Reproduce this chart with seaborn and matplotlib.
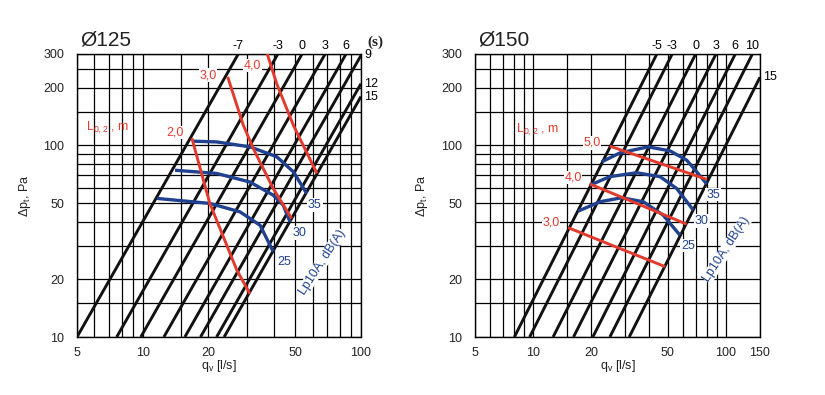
import matplotlib
matplotlib.use("Agg")
import matplotlib.pyplot as plt
import matplotlib.ticker as mticker
import matplotlib.transforms as mtransforms
import seaborn as sns

# ================= DATA =================
# ---- Ø125 : characteristic lines (damper setting s) ----
s125_labels = ["-7", "-3", "0", "3", "6", "9", "12", "15"]
s125_q_start = [5.0, 7.6, 9.8, 12.5, 15.6, 18.4, 21.8, 23.6]
s125_dp_start = [10, 10, 10, 10, 10, 10, 10, 10]
s125_q_end = [27.4, 41.6, 53.7, 68.5, 85.4, 100, 100, 100]
s125_dp_end = [300, 300, 300, 300, 300, 295, 210, 180]

# ---- Ø125 : sound level curves Lp10A dB(A) ----
lp125_35_q = [17.05, 21.8, 31.0, 41.1, 49.0, 56.4]
lp125_35_dp = [105.2, 104.3, 98.3, 87.3, 72.8, 56.1]
lp125_30_q = [14.06, 21.8, 31.0, 39.6, 44.0, 47.3]
lp125_30_dp = [74.2, 71.4, 64.4, 55.0, 48.8, 39.9]
lp125_25_q = [11.6, 20.3, 27.9, 34.5, 39.6]
lp125_25_dp = [52.9, 49.8, 45.0, 38.3, 27.9]

# ---- Ø125 : throw L0,2 (m) ----
l125_20_q = [16.8, 20.3, 27.0, 31.0]
l125_20_dp = [109, 49.8, 22.3, 16.8]
l125_30_q = [24.5, 28.9, 32.1, 39.6, 48.1]
l125_30_dp = [228, 127.5, 96.4, 59.6, 41.6]
l125_40_q = [37.2, 41.1, 49.0, 62.8]
l125_40_dp = [300, 210, 127.5, 71.4]

# ---- Ø150 : characteristic lines ----
s150_labels = ["-5", "-3", "0", "3", "6", "10", "15"]
s150_q_start = [8.0, 9.6, 12.7, 16.2, 20.4, 25.0, 31.5]
s150_dp_start = [10, 10, 10, 10, 10, 10, 10]
s150_q_end = [43.8, 52.6, 69.6, 88.7, 111.7, 137, 150]
s150_dp_end = [300, 300, 300, 300, 300, 300, 227]

# ---- Ø150 : sound level curves ----
lp150_35_q = [22.7, 28.2, 39.5, 51.3, 62.5, 70.5, 79.4]
lp150_35_dp = [82.1, 91.4, 98.3, 93.6, 83.8, 72.8, 62.9]
lp150_30_q = [19.7, 25.0, 34.4, 45.5, 55.5, 67.6]
lp150_30_dp = [62.0, 68.7, 72.0, 68.7, 59.6, 46.0]
lp150_25_q = [17.15, 22.2, 28.8, 37.3, 47.3, 57.7]
lp150_25_dp = [45.4, 50.8, 53.3, 50.8, 43.2, 34.0]

# ---- Ø150 : throw L0,2 (m) ----
l150_50_q = [25.0, 79.4]
l150_50_dp = [99.1, 66.5]
l150_40_q = [19.7, 62.5]
l150_40_dp = [62.9, 38.8]
l150_30_q = [15.2, 48.3]
l150_30_dp = [37.2, 23.3]

# ---- axes ----
y_ticks = [10, 20, 50, 100, 200, 300]
y_grid = [10, 15, 20, 30, 40, 50, 60, 70, 80, 90, 100, 150, 200, 250, 300]
x125_ticks = [5, 10, 20, 50, 100]
x125_grid = [5, 6, 7, 8, 9, 10, 15, 20, 30, 40, 50, 60, 70, 80, 90, 100]
x150_ticks = [5, 10, 20, 50, 100, 150]
x150_grid = [5, 6, 7, 8, 9, 10, 15, 20, 30, 40, 50, 60, 70, 80, 90, 100, 150]

# ================= STYLE =================
sns.set_theme(style="white")
plt.rcParams["font.family"] = ["Liberation Sans", "DejaVu Sans"]
plt.rcParams["mathtext.default"] = "regular"

RED = "#e23a2c"
BLUE = "#1f4190"
BLACK = "#111111"

fig = plt.figure(figsize=(8.25, 3.95), dpi=100)
ax1 = fig.add_axes([77 / 825, 1 - 337 / 395, 284 / 825, 283 / 395])
ax2 = fig.add_axes([475 / 825, 1 - 337 / 395, 285 / 825, 283 / 395])


def setup(ax, xmax, xticks, xgrid):
    ax.set_xscale("log")
    ax.set_yscale("log")
    ax.set_xlim(5, xmax)
    ax.set_ylim(10, 300)
    ax.set_xticks(xticks)
    ax.set_xticklabels([str(v) for v in xticks])
    ax.set_xticks(xgrid, minor=True)
    ax.set_yticks(y_ticks)
    ax.set_yticklabels([str(v) for v in y_ticks])
    ax.set_yticks(y_grid, minor=True)
    ax.xaxis.set_minor_formatter(mticker.NullFormatter())
    ax.yaxis.set_minor_formatter(mticker.NullFormatter())
    ax.tick_params(which="both", length=0, labelsize=9, colors="#222222")
    ax.tick_params(axis="x", pad=7)
    ax.tick_params(axis="y", pad=9)
    ax.grid(which="both", color="black", lw=0.9)
    for sp in ax.spines.values():
        sp.set_color("black")
        sp.set_linewidth(1.0)
        sp.set_visible(True)
    ax.set_xlabel(r"q$_{v}$ [l/s]", fontsize=9, color="#222222")
    ax.set_ylabel(r"Δp$_{t}$, Pa", fontsize=9, color="#222222")
    ax.xaxis.set_label_coords(0.5, -0.075)


def draw_line(ax, q, dp, color, lw):
    sns.lineplot(x=q, y=dp, ax=ax, color=color, lw=lw, sort=False,
                 estimator=None, solid_capstyle="butt", zorder=3)


def s_lines(ax, labels, qs, dps, qe, dpe, xmax):
    trans_top = mtransforms.blended_transform_factory(ax.transData, ax.transAxes)
    trans_right = mtransforms.blended_transform_factory(ax.transAxes, ax.transData)
    for lab, a, b, c, d in zip(labels, qs, dps, qe, dpe):
        draw_line(ax, [a, c], [b, d], BLACK, 2.1)
        if d >= 300:
            ax.annotate(lab, xy=(c, 1.0), xycoords=trans_top, xytext=(0, 6),
                        textcoords="offset points", ha="center", va="center",
                        fontsize=9, color="black", annotation_clip=False)
        else:
            ax.text(1.012, d, lab, transform=trans_right, ha="left",
                    va="center", fontsize=9, color="black")


# ---------------- Ø125 ----------------
setup(ax1, 100, x125_ticks, x125_grid)
s_lines(ax1, s125_labels, s125_q_start, s125_dp_start, s125_q_end, s125_dp_end, 100)
for q, dp in [(lp125_35_q, lp125_35_dp), (lp125_30_q, lp125_30_dp), (lp125_25_q, lp125_25_dp)]:
    draw_line(ax1, q, dp, BLUE, 2.4)
for q, dp in [(l125_20_q, l125_20_dp), (l125_30_q, l125_30_dp), (l125_40_q, l125_40_dp)]:
    draw_line(ax1, q, dp, RED, 2.1)

ax1.text(0.01, 1.05, "Ø125", transform=ax1.transAxes, ha="left", va="center",
         fontsize=15, color="#222222")
ax1.text(1.05, 1.043, "(s)", transform=ax1.transAxes, ha="center", va="center",
         fontsize=11, fontweight="bold", family="Liberation Serif", color="#222222")
ax1.text(6.87, 124, r"L$_{0,2}$ , m", color=RED, fontsize=9, ha="center", va="center")
for txt, x, y in [("2,0", 14.1, 117), ("3,0", 19.9, 233), ("4,0", 31.7, 261)]:
    ax1.text(x, y, txt, color=RED, fontsize=9, ha="center", va="center",
             bbox=dict(facecolor="white", edgecolor="none", pad=0.5))
for txt, x, y in [("35", 61.5, 48.8), ("30", 52.5, 35.0), ("25", 44.4, 24.7)]:
    ax1.text(x, y, txt, color=BLUE, fontsize=9, ha="center", va="center",
             bbox=dict(facecolor="white", edgecolor="none", pad=0.5))
ax1.text(66.3, 24.6, "Lp10A, dB(A)", color=BLUE, fontsize=9, rotation=57,
         rotation_mode="anchor", ha="center", va="center",
         bbox=dict(facecolor="white", edgecolor="none", pad=0.3))
ax1.yaxis.set_label_coords(-0.155, 0.5)

# ---------------- Ø150 ----------------
setup(ax2, 150, x150_ticks, x150_grid)
s_lines(ax2, s150_labels, s150_q_start, s150_dp_start, s150_q_end, s150_dp_end, 150)
for q, dp in [(lp150_35_q, lp150_35_dp), (lp150_30_q, lp150_30_dp), (lp150_25_q, lp150_25_dp)]:
    draw_line(ax2, q, dp, BLUE, 2.4)
for q, dp in [(l150_50_q, l150_50_dp), (l150_40_q, l150_40_dp), (l150_30_q, l150_30_dp)]:
    draw_line(ax2, q, dp, RED, 2.1)

ax2.text(0.01, 1.05, "Ø150", transform=ax2.transAxes, ha="left", va="center",
         fontsize=15, color="#222222")
ax2.text(10.5, 120, r"L$_{0,2}$ , m", color=RED, fontsize=9, ha="center", va="center")
for txt, x, y in [("5,0", 20.2, 103), ("4,0", 16.1, 68), ("3,0", 12.4, 39.4)]:
    ax2.text(x, y, txt, color=RED, fontsize=9, ha="center", va="center",
             bbox=dict(facecolor="white", edgecolor="none", pad=0.5))
for txt, x, y in [("35", 85.6, 55.4), ("30", 75.0, 40.3), ("25", 63.5, 30.0)]:
    ax2.text(x, y, txt, color=BLUE, fontsize=9, ha="center", va="center",
             bbox=dict(facecolor="white", edgecolor="none", pad=0.5))
ax2.text(100.8, 28.8, "Lp10A, dB(A)", color=BLUE, fontsize=9, rotation=57,
         rotation_mode="anchor", ha="center", va="center",
         bbox=dict(facecolor="white", edgecolor="none", pad=0.3))
ax2.yaxis.set_label_coords(-0.158, 0.5)

fig.savefig("out.png", dpi=100, facecolor="white")
